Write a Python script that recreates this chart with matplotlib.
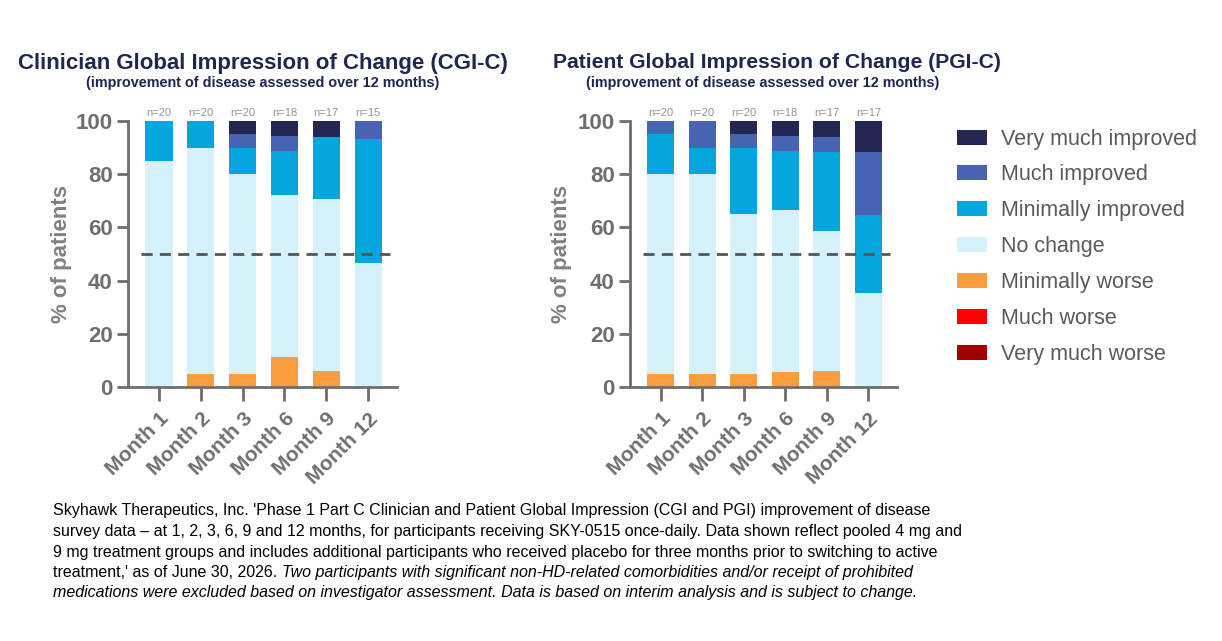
import matplotlib
matplotlib.use("Agg")
import matplotlib.pyplot as plt
import numpy as np
from matplotlib.patches import Patch

months = ["Month 1", "Month 2", "Month 3", "Month 6", "Month 9", "Month 12"]
categories = ["Very much improved", "Much improved", "Minimally improved", "No change",
              "Minimally worse", "Much worse", "Very much worse"]
colors = ["#222852", "#4664b2", "#04a6dd", "#d5f2fc", "#f99e3e", "#ff0000", "#a00000"]

# CGI-C segment percentages (same order as categories)
cgi_vmi = [0, 0, 5, 5.6, 5.9, 0]
cgi_mi = [0, 0, 5, 5.6, 0, 6.7]
cgi_min_i = [15, 10, 10, 16.7, 23.5, 46.6]
cgi_nc = [85, 85, 75, 61.1, 64.7, 46.7]
cgi_min_w = [0, 5, 5, 11.1, 5.9, 0]
cgi_much_w = [0, 0, 0, 0, 0, 0]
cgi_vm_w = [0, 0, 0, 0, 0, 0]
cgi_n = [20, 20, 20, 18, 17, 15]

# PGI-C segment percentages
pgi_vmi = [0, 0, 5, 5.6, 5.9, 11.8]
pgi_mi = [5, 10, 5, 5.6, 5.9, 23.5]
pgi_min_i = [15, 10, 25, 22.2, 29.4, 29.4]
pgi_nc = [75, 75, 60, 61.1, 52.9, 35.3]
pgi_min_w = [5, 5, 5, 5.5, 5.9, 0]
pgi_much_w = [0, 0, 0, 0, 0, 0]
pgi_vm_w = [0, 0, 0, 0, 0, 0]
pgi_n = [20, 20, 20, 18, 17, 17]

titles = ["Clinician Global Impression of Change (CGI-C)",
          "Patient Global Impression of Change (PGI-C)"]
subtitle = "(improvement of disease assessed over 12 months)"

gray = "#6e6e6e"
navy = "#1f2650"
plt.rcParams['font.family'] = ['Liberation Sans', 'DejaVu Sans']

fig = plt.figure(figsize=(12.22, 6.41), dpi=100)


def draw_panel(ax, segs, ns, ylab_x):
    x = np.arange(len(months))
    # stack from bottom: worst first
    bottom = np.zeros(len(months))
    for vals, c in zip(segs[::-1], colors[::-1]):
        vals = np.array(vals, dtype=float)
        ax.bar(x, vals, bottom=bottom, width=0.65, color=c, linewidth=0)
        bottom += vals
    ax.axhline(50, xmin=0.05, xmax=0.975, color="#555555", lw=2, ls=(0, (4, 2.6)))
    for xi, n in zip(x, ns):
        ax.text(xi, 101.2, "n=%d" % n, ha="center", va="bottom", fontsize=8, color="#939393")
    ax.set_xlim(-0.74, 5.69)
    ax.set_ylim(0, 100)
    ax.set_yticks([0, 20, 40, 60, 80, 100])
    ax.set_xticks(x)
    ax.set_xticklabels(months, rotation=45, ha="right", rotation_mode="anchor")
    for lab in ax.get_yticklabels():
        lab.set_fontweight("bold")
        lab.set_fontsize(16)
        lab.set_color(gray)
    for lab in ax.get_xticklabels():
        lab.set_fontweight("bold")
        lab.set_fontsize(15)
        lab.set_color(gray)
    ax.tick_params(axis="both", colors=gray, width=2, length=8, pad=3)
    ax.tick_params(axis="x", length=10, pad=6)
    for s in ["top", "right"]:
        ax.spines[s].set_visible(False)
    for s in ["left", "bottom"]:
        ax.spines[s].set_color(gray)
        ax.spines[s].set_linewidth(2)
    ax.set_ylabel("% of patients", fontsize=16, fontweight="bold", color="#808080")
    ax.yaxis.set_label_coords(ylab_x, 0.5)


ax1 = fig.add_axes([128 / 1222, 1 - 387 / 641, 269 / 1222, 266 / 641])
draw_panel(ax1, [cgi_vmi, cgi_mi, cgi_min_i, cgi_nc, cgi_min_w, cgi_much_w, cgi_vm_w],
           cgi_n, -0.208)
ax2 = fig.add_axes([630 / 1222, 1 - 387 / 641, 267 / 1222, 266 / 641])
draw_panel(ax2, [pgi_vmi, pgi_mi, pgi_min_i, pgi_nc, pgi_min_w, pgi_much_w, pgi_vm_w],
           pgi_n, -0.217)

fig.text(263 / 1222, 1 - 63 / 641, titles[0], ha="center", va="center", fontsize=16,
         fontweight="bold", color=navy)
fig.text(263 / 1222, 1 - 83 / 641, subtitle, ha="center", va="center", fontsize=10.4,
         fontweight="bold", color=navy)
fig.text(777 / 1222, 1 - 63 / 641, titles[1], ha="center", va="center", fontsize=15.2,
         fontweight="bold", color=navy)
fig.text(763 / 1222, 1 - 83 / 641, subtitle, ha="center", va="center", fontsize=10.4,
         fontweight="bold", color=navy)

handles = [Patch(facecolor=c, edgecolor="none") for c in colors]
fig.legend(handles, categories, loc="upper left", bbox_to_anchor=(948 / 1222, 1 - 120 / 641),
           frameon=False, fontsize=15.5, labelcolor="#5a5a5a", handlelength=1.4,
           handleheight=0.7, handletextpad=0.65, labelspacing=0.69, borderaxespad=0)

# footnote
fnt = ['Liberation Sans Narrow', 'Liberation Sans', 'DejaVu Sans']
fsize = 11.5
lines = [
    "Skyhawk Therapeutics, Inc. 'Phase 1 Part C Clinician and Patient Global Impression (CGI and PGI) improvement of disease",
    "survey data \u2013 at 1, 2, 3, 6, 9 and 12 months, for participants receiving SKY-0515 once-daily. Data shown reflect pooled 4 mg and",
    "9 mg treatment groups and includes additional participants who received placebo for three months prior to switching to active",
]
y0 = 1 - 511 / 641
dy = 20.5 / 641
x0 = 53 / 1222
for i, ln in enumerate(lines):
    fig.text(x0, y0 - i * dy, ln, ha="left", va="center", fontsize=fsize, family=fnt, color="black")
t = fig.text(x0, y0 - 3 * dy, "treatment,' as of June 30, 2026. ", ha="left", va="center",
             fontsize=fsize, family=fnt, color="black")
fig.canvas.draw()
bb = t.get_window_extent()
fig.text(bb.x1 / fig.bbox.width, y0 - 3 * dy,
         "Two participants with significant non-HD-related comorbidities and/or receipt of prohibited",
         ha="left", va="center", fontsize=fsize, family=fnt, style="italic", color="black")
fig.text(x0, y0 - 4 * dy,
         "medications were excluded based on investigator assessment. Data is based on interim analysis and is subject to change.",
         ha="left", va="center", fontsize=fsize, family=fnt, style="italic", color="black")

fig.savefig("out.png", dpi=100)
